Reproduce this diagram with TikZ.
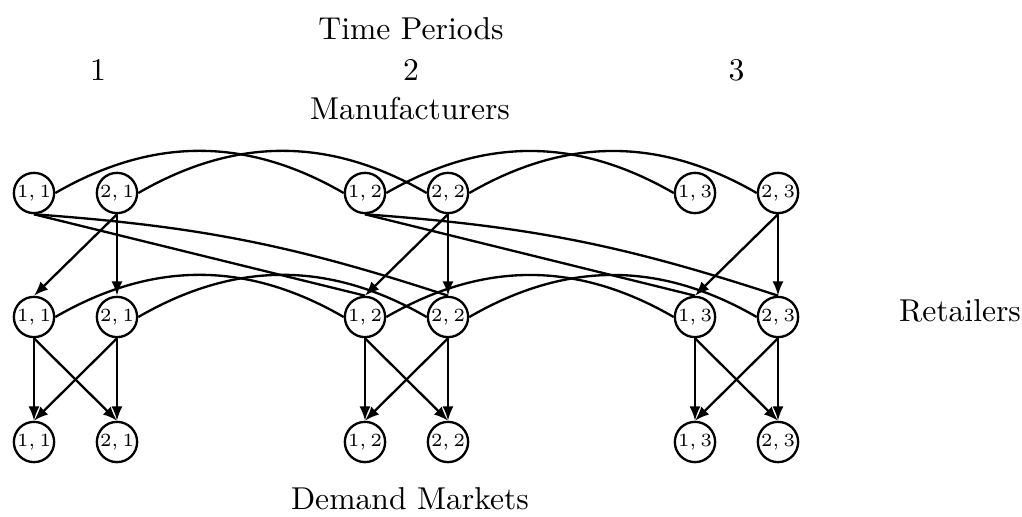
\documentclass[tikz,border=0pt]{standalone}
\usetikzlibrary{arrows.meta}
\begin{document}
\begin{tikzpicture}[x=0.3226pt,y=-0.3226pt,
  nd/.style={draw,circle,line width=0.75pt,inner sep=0pt,minimum size=13pt,font=\fontsize{6.4}{7.5}\selectfont},
  lnk/.style={line width=0.75pt},
  arr/.style={line width=0.75pt,-{Latex[length=4.6pt,width=3.6pt]}},
  lbl/.style={anchor=base,inner sep=0pt,font=\fontsize{10.2}{12}\selectfont}]
\useasboundingbox (0,0) rectangle (1022,517);
% labels
\node[lbl] (tp) at (411,40) {Time Periods};
\node[lbl] (p1) at (98,81) {1};
\node[lbl] (p2) at (411,81) {2};
\node[lbl] (p3) at (736.5,81) {3};
\node[lbl] (man) at (410,120) {Manufacturers};
\node[lbl] (ret) at (960,322) {Retailers};
\node[lbl] (dem) at (410,510) {Demand Markets};
% nodes
\foreach \t/\xa/\xb in {1/34/117, 2/365/448, 3/695/778}{
  \node[nd] (m1\t) at (\xa,193) {$1,\t$};
  \node[nd] (m2\t) at (\xb,193) {$2,\t$};
  \node[nd] (r1\t) at (\xa,317) {$1,\t$};
  \node[nd] (r2\t) at (\xb,317) {$2,\t$};
  \node[nd] (d1\t) at (\xa,442) {$1,\t$};
  \node[nd] (d2\t) at (\xb,442) {$2,\t$};
}
% inter-period links
\foreach \a/\b in {1/2, 2/3}{
  \draw[lnk] (m1\a.east) to[bend left=30] (m1\b.west);
  \draw[lnk] (m2\a.east) to[bend left=30] (m2\b.west);
  \draw[lnk] (r1\a.east) to[bend left=30] (r1\b.west);
  \draw[lnk] (r2\a.east) to[bend left=30] (r2\b.west);
  \draw[lnk] (m1\a.south) to (r1\b.north);
  \draw[lnk] (m1\a.south) to[bend left=7] (r2\b.north);
}
% manufacturer 2 to retailers, retailers to demand markets
\foreach \t in {1,2,3}{
  \draw[arr] (m2\t.south) -- (r1\t.north);
  \draw[arr] (m2\t.south) -- (r2\t.north);
  \draw[arr] (r1\t.south) -- (d1\t.north);
  \draw[arr] (r1\t.south) -- (d2\t.north);
  \draw[arr] (r2\t.south) -- (d1\t.north);
  \draw[arr] (r2\t.south) -- (d2\t.north);
}
\end{tikzpicture}
\end{document}
